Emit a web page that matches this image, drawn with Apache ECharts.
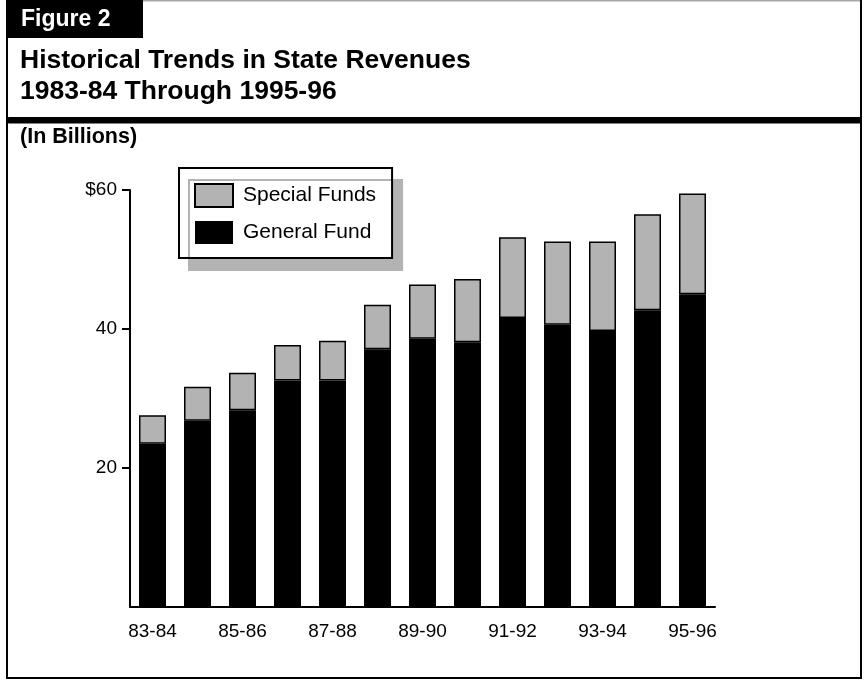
<!DOCTYPE html>
<html>
<head>
<meta charset="utf-8">
<script src="https://cdn.jsdelivr.net/npm/echarts@6/dist/echarts.min.js"></script>
<style>
  html, body { margin: 0; padding: 0; background: #fff; }
  #chart { width: 867px; height: 681px; }
</style>
</head>
<body>
<div id="chart"></div>
<script>
// Fiscal years shown on the horizontal axis
const years = ['83-84', '84-85', '85-86', '86-87', '87-88', '88-89', '89-90',
               '90-91', '91-92', '92-93', '93-94', '94-95', '95-96'];
// Revenues in billions of dollars
const generalFund  = [23.5, 26.8, 28.3, 32.6, 32.6, 37.1, 38.6, 38.1, 41.6, 40.6, 39.7, 42.7, 45.0];
const specialFunds = [4.1, 4.9, 5.4, 5.1, 5.7, 6.4, 7.8, 9.1, 11.6, 12.0, 12.9, 13.8, 14.5];
// Value-axis ticks that carry a label
const yTicks = [20, 40, 60];

const FONT = '"Liberation Sans", Arial, Helvetica, sans-serif';
const chart = echarts.init(document.getElementById('chart'), null, { renderer: 'canvas' });

chart.setOption({
  backgroundColor: '#fff',
  animation: false,
  textStyle: { fontFamily: FONT, color: '#000' },
  graphic: [
    // outer frame
    { type: 'line', shape: { x1: 143, y1: 0.75, x2: 861, y2: 0.75 }, style: { stroke: '#a8a8a8', lineWidth: 1.5 } },
    { type: 'line', shape: { x1: 7, y1: 0, x2: 7, y2: 678 }, style: { stroke: '#000', lineWidth: 2 } },
    { type: 'line', shape: { x1: 861, y1: 0, x2: 861, y2: 678 }, style: { stroke: '#000', lineWidth: 2 } },
    { type: 'line', shape: { x1: 6, y1: 678, x2: 862, y2: 678 }, style: { stroke: '#000', lineWidth: 2 } },
    // figure tab
    { type: 'rect', shape: { x: 6, y: 0, width: 137, height: 38 }, style: { fill: '#000' } },
    { type: 'text', x: 21, y: 31, style: { text: 'Figure 2', fill: '#fff', font: 'bold 23px ' + FONT, textVerticalAlign: 'bottom' } },
    // title
    { type: 'text', x: 20, y: 74, style: { text: 'Historical Trends in State Revenues', fill: '#000', font: 'bold 26.5px ' + FONT, textVerticalAlign: 'bottom' } },
    { type: 'text', x: 20, y: 105, style: { text: '1983-84 Through 1995-96', fill: '#000', font: 'bold 26.5px ' + FONT, textVerticalAlign: 'bottom' } },
    // heavy rule under the title
    { type: 'rect', shape: { x: 6, y: 117, width: 856, height: 6.5, r: [3.25, 0, 0, 3.25] }, style: { fill: '#000' } },
    // unit note
    { type: 'text', x: 20, y: 148, style: { text: '(In Billions)', fill: '#000', font: 'bold 21.5px ' + FONT, textVerticalAlign: 'bottom' } }
  ],
  legend: {
    orient: 'vertical',
    left: 179,
    top: 168,
    padding: [15, 16, 14, 15],
    itemGap: 13,
    itemWidth: 38,
    itemHeight: 23,
    icon: 'rect',
    backgroundColor: '#fff',
    borderColor: '#000',
    borderWidth: 2,
    borderRadius: 0,
    shadowColor: '#b3b3b3',
    shadowBlur: 0,
    shadowOffsetX: 10,
    shadowOffsetY: 12,
    data: ['Special Funds', 'General Fund'],
    textStyle: { fontSize: 21, fontFamily: FONT, color: '#000', padding: [0, 0, 0, 5] }
  },
  grid: { left: 130, right: 152, top: 190, bottom: 74, containLabel: false },
  xAxis: {
    type: 'category',
    data: years,
    boundaryGap: true,
    axisLine: { lineStyle: { color: '#000', width: 2 } },
    axisTick: { show: false },
    axisLabel: { interval: 1, margin: 15, fontSize: 19, color: '#000', fontFamily: FONT }
  },
  yAxis: {
    type: 'value',
    min: 0,
    max: 60,
    interval: 20,
    splitLine: { show: false },
    axisLine: { show: true, lineStyle: { color: '#000', width: 2 } },
    axisTick: { show: true, length: 8, customValues: yTicks, lineStyle: { color: '#000', width: 2 } },
    axisLabel: {
      customValues: yTicks,
      margin: 13,
      fontSize: 19,
      color: '#000',
      fontFamily: FONT,
      formatter: v => (v === 60 ? '$60' : String(v))
    }
  },
  series: [
    {
      name: 'General Fund',
      type: 'bar',
      stack: 'revenue',
      data: generalFund,
      barWidth: 27,
      itemStyle: { color: '#000', borderColor: '#000', borderWidth: 0 }
    },
    {
      name: 'Special Funds',
      type: 'bar',
      stack: 'revenue',
      data: specialFunds,
      barWidth: 27,
      itemStyle: { color: '#b3b3b3', borderColor: '#000', borderWidth: 1.5 }
    }
  ]
});
</script>
</body>
</html>
